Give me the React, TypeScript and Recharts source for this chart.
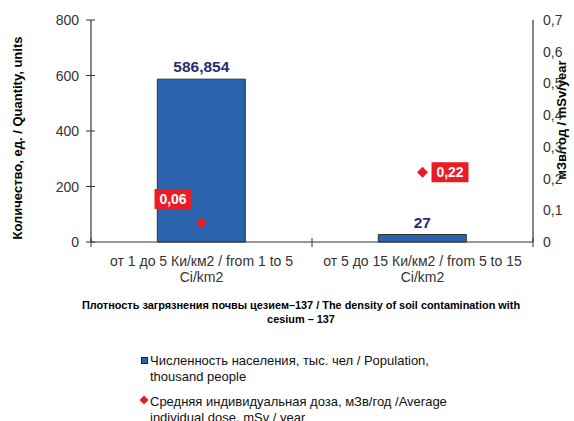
import React from 'react';
import { ComposedChart, Bar, Scatter, XAxis, YAxis, LabelList, Legend } from 'recharts';

const categories = [
  'от 1 до 5 Ки/км2 / from 1 to 5 Ci/km2',
  'от 5 до 15 Ки/км2 / from 5 to 15 Ci/km2',
];
const population = [586.854, 27];
const dose = [0.06, 0.22];
const leftTicks = [0, 200, 400, 600, 800];
const rightTicks = [0, 0.1, 0.2, 0.3, 0.4, 0.5, 0.6, 0.7];
const seriesNames = [
  ['Численность населения, тыс. чел / Population,', 'thousand people'],
  ['Средняя индивидуальная доза, мЗв/год /Average', 'individual dose, mSv / year'],
];
const xTitle = [
  'Плотность загрязнения почвы цезием–137 / The density of soil contamination with',
  'cesium – 137',
];
const leftTitle = 'Количество, ед. / Quantity, units';
const rightTitle = 'мЗв/год / mSv/year';

const data = categories.map((c, i) => ({ category: c, population: population[i], dose: dose[i] }));

const FONT = '"Liberation Sans", Arial, Helvetica, sans-serif';
const BLUE = '#2b63ae';
const RED = '#ec1c24';
const NAVY = '#2b2c6e';
const AXIS = '#333';
const fmt = (v: number) => String(v).replace('.', ',');

const CategoryTick = (props: any) => {
  const { x, y, payload, index } = props;
  const s = String(payload.value);
  const k = s.lastIndexOf(' ');
  const half = typeof payload.offset === 'number' ? payload.offset : 0;
  return (
    <g>
      {half > 0 && index === 0 && <line x1={x - half} x2={x - half} y1={y - 4} y2={y + 5} stroke={AXIS} />}
      {half > 0 && <line x1={x + half} x2={x + half} y1={y - 4} y2={y + 5} stroke={AXIS} />}
      <text x={x} y={y} textAnchor="middle" fontFamily={FONT} fontSize={14} fill={AXIS}>
        <tspan x={x} dy={23.5}>{s.slice(0, k)}</tspan>
        <tspan x={x} dy={16.5}>{s.slice(k + 1)}</tspan>
      </text>
    </g>
  );
};

const LeftTick = (props: any) => {
  const { x, y, payload } = props;
  return (
    <g>
      <line x1={x - 5} x2={x + 4} y1={y} y2={y} stroke={AXIS} />
      <text x={x - 12} y={y + 5} textAnchor="end" fontFamily={FONT} fontSize={14} fill={AXIS}>
        {payload.value}
      </text>
    </g>
  );
};

const XTitle = () => (
  <text x={301} y={309} textAnchor="middle" fontFamily={FONT} fontSize={10.9} fontWeight="bold" fill="#000">
    <tspan x={301}>{xTitle[0]}</tspan>
    <tspan x={301} dy={13.5}>{xTitle[1]}</tspan>
  </text>
);

const LeftTitle = () => (
  <text x={22} y={138} transform="rotate(-90 22 138)" textAnchor="middle" fontFamily={FONT} fontSize={13} fontWeight="bold" fill="#000">
    {leftTitle}
  </text>
);

const RightTitle = () => (
  <text x={566} y={120} transform="rotate(-90 566 120)" textAnchor="middle" fontFamily={FONT} fontSize={13} fontWeight="bold" fill="#000">
    {rightTitle}
  </text>
);

const DoseShape = (props: any) => {
  const { cx, cy, payload } = props;
  const idx = categories.indexOf(payload?.category);
  const label = fmt(payload?.dose);
  const w = 37;
  const h = 20;
  const bx = idx === 0 ? cx - 10 - w : cx + 9;
  const by = idx === 0 ? cy - 14 - h : cy - h / 2;
  return (
    <g>
      <polygon points={`${cx},${cy - 5.5} ${cx + 5.5},${cy} ${cx},${cy + 5.5} ${cx - 5.5},${cy}`} fill={RED} />
      <rect x={bx} y={by} width={w} height={h} fill={RED} />
      <text x={bx + w / 2} y={by + h / 2 + 5} textAnchor="middle" fontFamily={FONT} fontSize={14} fontWeight="bold" fill="#fff">
        {label}
      </text>
    </g>
  );
};

const LegendContent = () => (
  <div style={{ position: 'absolute', left: 0, top: 0, width: 574, height: 421, fontFamily: FONT, fontSize: 13, lineHeight: '16px', color: '#111' }}>
    <div style={{ position: 'absolute', left: 141, top: 357, width: 5, height: 5, background: BLUE, border: '1px solid #222' }} />
    <div style={{ position: 'absolute', left: 150, top: 353, whiteSpace: 'nowrap' }}>
      <div>{seriesNames[0][0]}</div>
      <div>{seriesNames[0][1]}</div>
    </div>
    <svg style={{ position: 'absolute', left: 139, top: 395 }} width={10} height={10}>
      <polygon points="5,0.5 9.5,5 5,9.5 0.5,5" fill={RED} />
    </svg>
    <div style={{ position: 'absolute', left: 150, top: 394, whiteSpace: 'nowrap' }}>
      <div>{seriesNames[1][0]}</div>
      <div>{seriesNames[1][1]}</div>
    </div>
  </div>
);

export default function App() {
  return (
    <div style={{ position: 'absolute', left: 0, top: 0, width: 574, height: 421, background: '#fff', overflow: 'hidden' }}>
      <ComposedChart
        width={574}
        height={421}
        data={data}
        margin={{ top: 20, right: 11, left: 31, bottom: 119 }}
        barCategoryGap="30%"
      >
        <XAxis
          xAxisId="cat"
          dataKey="category"
          height={60}
          tickLine={false}
          tickSize={0}
          tickMargin={0}
          interval={0}
          tick={<CategoryTick />}
          axisLine={{ stroke: AXIS, strokeWidth: 1.2 }}
          label={<XTitle />}
        />
        <XAxis
          xAxisId="top"
          orientation="top"
          dataKey="category"
          height={0}
          tick={false}
          tickLine={false}
          axisLine={{ stroke: AXIS }}
        />
        <YAxis
          yAxisId="left"
          domain={[0, 800]}
          ticks={leftTicks}
          width={60}
          tickSize={0}
          tickMargin={0}
          tickLine={false}
          axisLine={{ stroke: AXIS, strokeWidth: 1.2 }}
          tick={<LeftTick />}
          label={<LeftTitle />}
        />
        <YAxis
          yAxisId="right"
          orientation="right"
          domain={[0, 0.7]}
          ticks={rightTicks}
          width={30}
          tickLine={false}
          tickSize={6}
          tickMargin={4}
          tickFormatter={fmt}
          axisLine={{ stroke: AXIS, strokeWidth: 1.2 }}
          tick={{ fontFamily: FONT, fontSize: 14, fill: AXIS, textAnchor: 'start' }}
          label={<RightTitle />}
        />
        <Bar xAxisId="cat" yAxisId="left" dataKey="population" fill={BLUE} stroke="#333" strokeWidth={1} isAnimationActive={false}>
          <LabelList
            dataKey="population"
            position="top"
            offset={7}
            formatter={(v: any) => fmt(v)}
            style={{ fontFamily: FONT, fontSize: 15.5, fontWeight: 'bold', fill: NAVY }}
          />
        </Bar>
        <Scatter xAxisId="cat" yAxisId="right" dataKey="dose" shape={DoseShape} isAnimationActive={false} />
        <Legend
          layout="vertical"
          align="center"
          verticalAlign="middle"
          content={<LegendContent />}
          wrapperStyle={{ left: 0, top: 0, width: 574, height: 421, pointerEvents: 'none' }}
        />
      </ComposedChart>
    </div>
  );
}
